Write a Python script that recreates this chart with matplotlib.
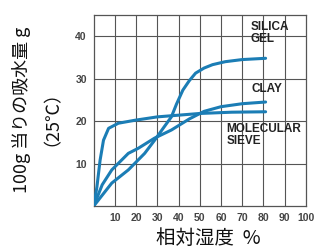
import matplotlib.pyplot as plt

# humidity (%) vs water adsorbed (g / 100 g)
silica_x = [0, 8.5, 16.3, 24, 28.7, 32.7, 36.6, 39, 42, 45, 48, 52, 56, 62, 70, 81]
silica_y = [0, 5.4, 8.5, 12.4, 15.5, 18.3, 21, 24, 27.3, 29.5, 31.3, 32.5, 33.3, 34, 34.5, 34.8]

clay_x = [0, 4, 8.5, 16.3, 21, 28.7, 36.6, 45, 52, 60, 70, 81]
clay_y = [0, 5, 8.5, 12.4, 13.6, 16, 17.9, 20.5, 22.3, 23.4, 24.1, 24.5]

sieve_x = [0, 1.5, 3, 4.6, 7, 11.6, 19.4, 30, 50, 65, 81]
sieve_y = [0, 4.5, 10.8, 15.5, 18.3, 19.5, 20.2, 21, 21.8, 22.1, 22.2]

xticks = [10, 20, 30, 40, 50, 60, 70, 80, 90, 100]
yticks = [10, 20, 30, 40]

line_color = '#1b7db5'
grid_color = '#555555'
tick_color = '#444444'

fig = plt.figure(figsize=(3.21, 2.5), dpi=100)
ax = fig.add_axes([0.292, 0.176, 0.661, 0.764])

for x in xticks[:-1]:
    ax.axvline(x, color=grid_color, lw=0.8, zorder=1)
for y in yticks:
    ax.axhline(y, color=grid_color, lw=0.8, zorder=1)

for xs, ys in [(silica_x, silica_y), (clay_x, clay_y), (sieve_x, sieve_y)]:
    ax.plot(xs, ys, color=line_color, lw=2.2, solid_capstyle='round',
            solid_joinstyle='round', zorder=3)

ax.set_xlim(0, 100)
ax.set_ylim(0, 45)
ax.set_xticks(xticks)
ax.set_yticks(yticks)
ax.tick_params(length=0, labelsize=7.5, labelcolor=tick_color, pad=5)
for lab in ax.get_xticklabels() + ax.get_yticklabels():
    lab.set_fontweight('bold')
    lab.set_family('Liberation Sans')
for s in ax.spines.values():
    s.set_color(grid_color)
    s.set_linewidth(0.9)

lbl = dict(fontsize=8.5, fontweight='bold', family='Liberation Sans',
           color='#222222', linespacing=1.0, va='top', ha='left')
ax.text(74, 43.6, 'SILICA\nGEL', **lbl)
ax.text(74.3, 29.0, 'CLAY', **lbl)
ax.text(62.5, 19.6, 'MOLECULAR\nSIEVE', **lbl)

cjk = ['Noto Sans CJK JP', 'DejaVu Sans']
fig.text(0.066, 0.56, '100g 当りの吸水量 g', rotation=90, fontsize=13,
         family=cjk, ha='center', va='center', color='#111111')
fig.text(0.132, 0.565, '（25℃）', rotation=90, fontsize=13,
         family=cjk, ha='center', va='center', color='#111111')
fig.text(0.648, 0.048, '相対湿度  %', fontsize=14, family=cjk,
         ha='center', va='center', color='#111111')

fig.savefig('out.png', dpi=100)
